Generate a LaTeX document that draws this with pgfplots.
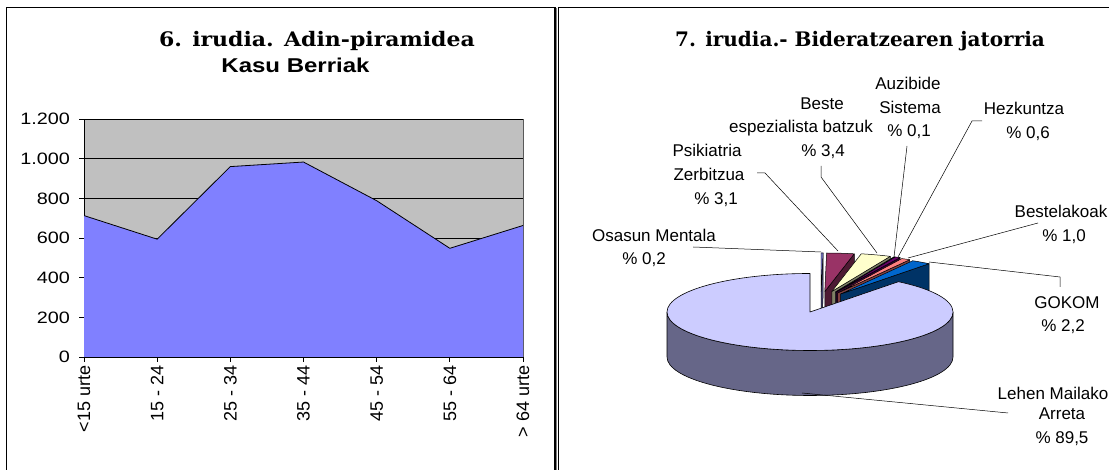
\documentclass[border=0pt]{standalone}
\usepackage{pgfplots}
\pgfplotsset{compat=1.18}
\usepackage{fontspec}
\setmainfont{Liberation Sans}
\newfontfamily\titleserif{DejaVu Serif}
\definecolor{plotbg}{HTML}{C0C0C0}
\definecolor{areablue}{HTML}{8080FF}
\definecolor{cOsa}{HTML}{9999FF}\definecolor{sOsa}{HTML}{4D4D80}
\definecolor{cPsi}{HTML}{993366}\definecolor{sPsi}{HTML}{4D1A33}
\definecolor{cBes}{HTML}{FFFFCC}\definecolor{sBes}{HTML}{808066}
\definecolor{cAuz}{HTML}{CCFFFF}\definecolor{sAuz}{HTML}{668080}
\definecolor{cHez}{HTML}{660066}\definecolor{sHez}{HTML}{330033}
\definecolor{cBst}{HTML}{FF8080}\definecolor{sBst}{HTML}{804040}
\definecolor{cGok}{HTML}{0066CC}\definecolor{sGok}{HTML}{003366}
\definecolor{cLeh}{HTML}{CCCCFF}\definecolor{sLeh}{HTML}{666688}
% #1 cx, #2 cy, #3 start angle, #4 end angle, #5 top colour, #6 side colour
\newcommand\pieslice[6]{%
  \filldraw[fill=#6, draw=black, line width=0.5pt, line join=round]
    (axis cs:#1,#2) ++(0pt,-45pt) -- ++(#4:143pt and 38.5pt) -- ++(0pt,45pt) -- (axis cs:#1,#2) -- cycle;
  \filldraw[fill=#5, draw=black, line width=0.5pt, line join=round]
    (axis cs:#1,#2) -- ++(#3:143pt and 38.5pt)
    arc[start angle=#3, end angle=#4, x radius=143pt, y radius=38.5pt] -- cycle;
}
\newcommand\lab[3]{\node[anchor=base, inner sep=0pt, font=\fontsize{17}{17}\selectfont] at (#1pt,#2pt) {#3};}
\begin{document}
\begin{tikzpicture}[x=1pt,y=1pt]
\path[use as bounding box] (0,0) rectangle (1109,470);
% panel frames
\draw[line width=1.3pt] (6.5,-5) -- (6.5,462.7) -- (555,462.7) -- (555,-5);
\draw[line width=1pt, gray] (556.6,-5) -- (556.6,462);
\draw[line width=1.3pt] (1115,462.3) -- (558.2,462.3) -- (558.2,-5);
% titles
\node[anchor=base, inner sep=0pt, font=\titleserif\bfseries\fontsize{20}{20}\selectfont, xscale=1.1] at (317,423.3) {6. irudia. Adin-piramidea};
\node[anchor=base, inner sep=0pt, font=\bfseries\fontsize{20}{20}\selectfont, xscale=1.2] at (295.5,397.3) {Kasu Berriak};
\node[anchor=base, inner sep=0pt, font=\titleserif\bfseries\fontsize{20}{20}\selectfont] at (860,423.3) {7. irudia.- Bideratzearen jatorria};

% area chart
\begin{axis}[
  at={(84pt,113pt)}, anchor=south west,
  scale only axis, width=439pt, height=238pt,
  xmin=0, xmax=6, ymin=0, ymax=1200,
  xtick={0,...,6},
  xticklabels={{<15 urte},{15 - 24},{25 - 34},{35 - 44},{45 - 54},{55 - 64},{> 64 urte}},
  ytick={0,200,...,1200},
  axis x line*=bottom, axis y line*=left,
  axis line style={-, black, line width=0.9pt},
  axis background/.style={fill=plotbg, draw=gray!70!black, line width=0.8pt},
  ymajorgrids, grid style={black, line width=0.8pt},
  tick align=outside, major tick length=5pt,
  tick style={black, line width=0.8pt},
  /pgf/number format/.cd, 1000 sep={.}, assume math mode=true,
  /pgfplots/.cd,
  yticklabel style={font=\fontsize{16.5}{16.5}\selectfont, xscale=1.2, anchor=east, xshift=-4pt},
  xticklabel style={font=\fontsize{18}{18}\selectfont, rotate=90, anchor=east},
]
\addplot[fill=areablue, draw=none] coordinates {(0,713) (1,594) (2,960) (3,983) (4,788) (5,548) (6,663)} \closedcycle;
\addplot[black, line width=0.8pt] coordinates {(0,713) (1,594) (2,960) (3,983) (4,788) (5,548) (6,663)};
\end{axis}

% pie chart
\begin{axis}[
  at={(0pt,0pt)}, anchor=south west,
  scale only axis, width=1109pt, height=470pt,
  xmin=0, xmax=1109, ymin=0, ymax=470, hide axis, clip=false]
% exploded small slices (angles from shares, clockwise from 90 deg)
\pieslice{821.2}{178.5}{90}{89.28}{cOsa}{sOsa}
\pieslice{824.8}{178.5}{89.28}{78.12}{cPsi}{sPsi}
\pieslice{831.8}{178.5}{78.12}{65.88}{cBes}{sBes}
\pieslice{835.4}{178}{65.88}{65.52}{cAuz}{sAuz}
\pieslice{836.1}{178}{65.52}{63.36}{cHez}{sHez}
\pieslice{837.7}{177}{63.36}{59.76}{cBst}{sBst}
\pieslice{840.7}{176}{59.76}{51.84}{cGok}{sGok}
% big slice: side then top
\filldraw[fill=sLeh, draw=black, line width=0.6pt]
  (axis cs:667,158) arc[start angle=180, end angle=360, x radius=143pt, y radius=38.5pt]
  -- ++(0pt,-45pt) arc[start angle=360, end angle=180, x radius=143pt, y radius=38.5pt] -- cycle;
\filldraw[fill=cLeh, draw=black, line width=0.6pt, line join=round]
  (axis cs:810,158) -- ++(90:143pt and 38.5pt)
  arc[start angle=90, end angle=411.84, x radius=143pt, y radius=38.5pt] -- cycle;
% leader lines
\draw[line width=0.5pt] (axis cs:693,223) -- (axis cs:821,218);
\draw[line width=0.5pt] (axis cs:757,297) -- (axis cs:765,297) -- (axis cs:838,219);
\draw[line width=0.5pt] (axis cs:821,304) -- (axis cs:821,293) -- (axis cs:877,217);
\draw[line width=0.5pt] (axis cs:907,324) -- (axis cs:894,213);
\draw[line width=0.5pt] (axis cs:982,349) -- (axis cs:972,349) -- (axis cs:898,213);
\draw[line width=0.5pt] (axis cs:1038,247) -- (axis cs:908,212);
\draw[line width=0.5pt] (axis cs:1060,183) -- (axis cs:1060,193) -- (axis cs:929,208);
\draw[line width=0.5pt] (axis cs:1008,57) -- (axis cs:802,77);
\end{axis}
% labels
\lab{908}{380.7}{Auzibide}
\lab{910}{356.7}{Sistema}
\lab{909}{333.3}{\% 0,1}
\lab{822}{360.7}{Beste}
\lab{801}{337.3}{espezialista batzuk}
\lab{823}{313.3}{\% 3,4}
\lab{707}{313.3}{Psikiatria}
\lab{709}{289.7}{Zerbitzua}
\lab{716}{265.3}{\% 3,1}
\lab{654}{228.3}{Osasun Mentala}
\lab{644}{205}{\% 0,2}
\lab{1024}{355.7}{Hezkuntza}
\lab{1028}{331.7}{\% 0,6}
\lab{1061}{252.7}{Bestelakoak}
\lab{1064}{228.3}{\% 1,0}
\lab{1067}{161.7}{GOKOM}
\lab{1063}{138.3}{\% 2,2}
\lab{1053}{70}{Lehen Mailako}
\lab{1062}{50.7}{Arreta}
\lab{1062}{26.7}{\% 89,5}
\end{tikzpicture}
\end{document}
